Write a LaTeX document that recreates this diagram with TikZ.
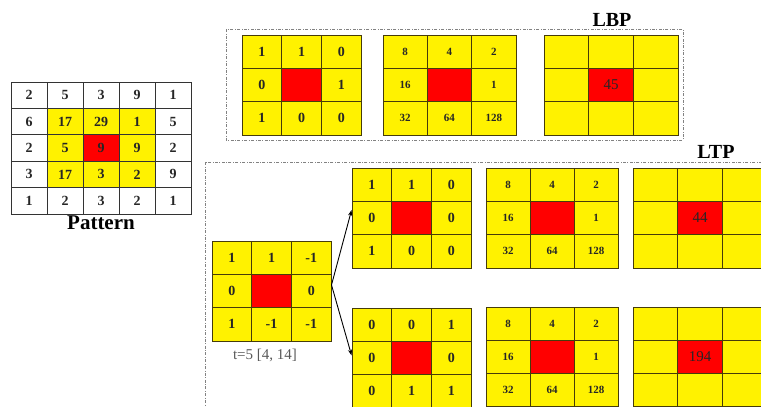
\documentclass[tikz,border=0pt]{standalone}
\usepackage{fontspec}
\setmainfont{Liberation Serif}
\usetikzlibrary{arrows.meta}

\definecolor{gridline}{RGB}{70,60,10}
\definecolor{boxline}{RGB}{130,130,130}

\tikzset{
  cell/.style={draw=gridline,line width=0.8pt,inner sep=0pt,text=black!85},
  paint/.code={\ifnum#1=4 \pgfkeysalso{fill=red}\else\pgfkeysalso{fill=yellow}\fi},
  zone/.code={%
    \pgfmathtruncatemacro\zr{#1/5}%
    \pgfmathtruncatemacro\zc{mod(#1,5)}%
    \pgfmathtruncatemacro\zn{(#1==12)+(\zr>0)*(\zr<4)*(\zc>0)*(\zc<4)}%
    \ifcase\zn \pgfkeysalso{fill=white}\or\pgfkeysalso{fill=yellow}\or\pgfkeysalso{fill=red}\fi},
  bin/.style={font=\bfseries\fontsize{14}{16}\selectfont},
  wt/.style={font=\bfseries\fontsize{11}{13}\selectfont},
  res/.style={font=\fontsize{15}{17}\selectfont},
  frame/.style={draw=boxline,line width=0.7pt,dash pattern=on 3pt off 1.5pt on 0.8pt off 1.5pt},
  title/.style={font=\bfseries\fontsize{20}{22}\selectfont},
  link/.style={-{Stealth[length=6pt,width=4pt]},line width=0.9pt}
}

% name, left, top, cell width, cell height, font style, values
\newcommand\tgrid[7]{%
  \foreach \v [count=\k from 0] in {#7}
    \node[cell,paint=\k,#6,minimum width=#4,minimum height=#5]
      (#1\k) at ({#2+#4*(mod(\k,3)+0.5)},{#3+#5*(int(\k/3)+0.5)}) {\v};
}

\begin{document}
\begin{tikzpicture}[x=1pt,y=-1pt]
\useasboundingbox (0,0) rectangle (761,407);
\clip (0,0) rectangle (761,407);

% pattern
\foreach \v [count=\k from 0] in {2,5,3,9,1,6,17,29,1,5,2,5,9,9,2,3,17,3,2,9,1,2,3,2,1}
  \node[cell,draw=black!80,zone=\k,bin,minimum width=36,minimum height=26.4]
    (p\k) at ({11+36*(mod(\k,5)+0.5)},{82+26.4*(int(\k/5)+0.5)}) {\v};
\node[title,anchor=north,font=\bfseries\fontsize{21}{23}\selectfont,inner sep=1pt] (pat) at (p22.south) {Pattern};

% LBP
\draw[frame] (226,29) rectangle (683,140);
\node[title] (lbp) at (612,20) {LBP};
\tgrid{b}{242}{35}{39.7}{33.3}{bin}{1,1,0,0,{},1,1,0,0}
\tgrid{bw}{383}{35}{44.3}{33.3}{wt}{8,4,2,16,{},1,32,64,128}
\tgrid{br}{544}{35}{44.7}{33.3}{res}{{},{},{},{},45,{},{},{},{}}

% LTP
\draw[frame] (205,162) rectangle (790,430);
\node[title] (ltp) at (716,152) {LTP};
\tgrid{t}{212}{241}{39.7}{33.3}{bin}{1,1,-1,0,{},0,1,-1,-1}
\node[font=\fontsize{15}{17}\selectfont,text=black!65] (thr) at (265,355) {t=5 [4, 14]};

\tgrid{u}{352}{168}{39.7}{33.3}{bin}{1,1,0,0,{},0,1,0,0}
\tgrid{uw}{486}{168}{44}{33.3}{wt}{8,4,2,16,{},1,32,64,128}
\tgrid{ur}{633}{168}{44.7}{33.3}{res}{{},{},{},{},44,{},{},{},{}}

\tgrid{l}{352}{308}{39.7}{33}{bin}{0,0,1,0,{},0,0,1,1}
\tgrid{lw}{486}{307}{44}{33}{wt}{8,4,2,16,{},1,32,64,128}
\tgrid{lr}{633}{307}{44.7}{33}{res}{{},{},{},{},194,{},{},{},{}}

\draw[link] ([yshift=6pt]t5.east) -- ([yshift=8pt]u3.west);
\draw[link] ([yshift=6pt]t5.east) -- ([yshift=2pt]l3.west);
\end{tikzpicture}
\end{document}
